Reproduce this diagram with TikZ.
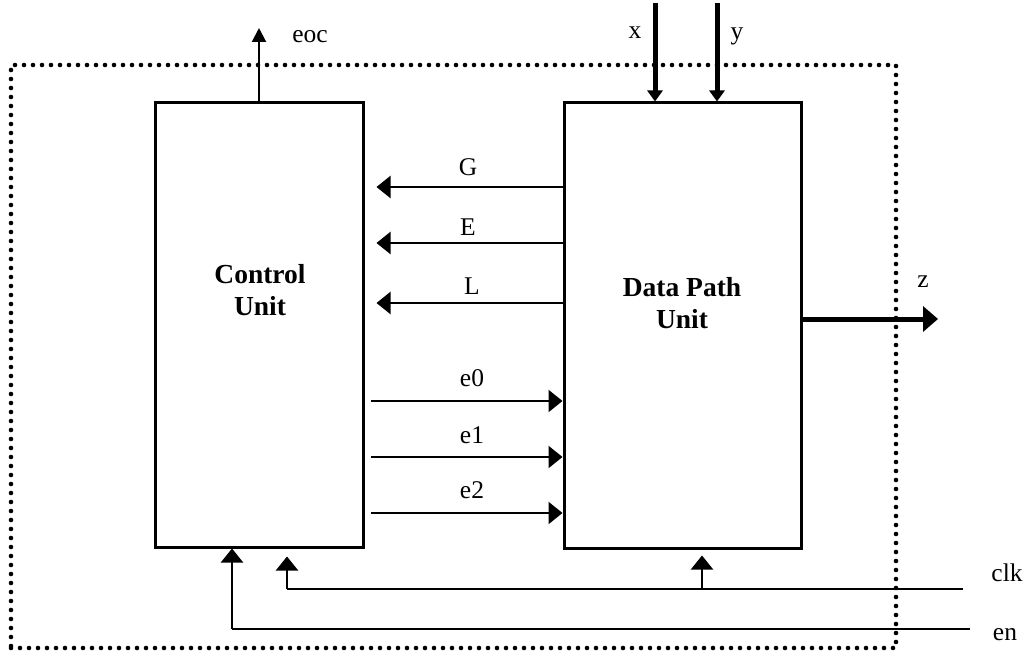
\documentclass[tikz,border=0pt]{standalone}
\usepackage{fontspec}
\setmainfont{Liberation Serif}
\usetikzlibrary{arrows.meta}
\begin{document}
\begin{tikzpicture}[x=1pt,y=-1pt,
  unitbox/.style={draw,line width=3pt,inner sep=0pt},
  unittext/.style={font=\fontsize{27.5}{32}\selectfont\bfseries,align=center},
  lbl/.style={font=\fontsize{25.5}{30}\selectfont,inner sep=0pt},
  sig/.style={line width=2.2pt,-{Triangle[length=14pt,width=22pt]}},
  small/.style={line width=2pt,-{Triangle[length=14pt,width=14pt]}},
  bus/.style={line width=5pt,-{Triangle[length=11pt,width=15pt]}},
  zbus/.style={line width=5pt,-{Triangle[length=15pt,width=25pt]}},
  wire/.style={line width=2.6pt},
  dotbox/.style={draw,line width=4.6pt,line cap=round,dash pattern=on 0pt off 9pt,inner sep=0pt}]
\useasboundingbox (0,0) rectangle (1028,655);
% system boundary
\node[dotbox,minimum width=885,minimum height=583] (sys) at (453.5,356.5) {};
% units
\node[unitbox,minimum width=208,minimum height=444] (cu) at (259,325) {};
\node[unitbox,minimum width=237,minimum height=445] (dp) at (682.5,325.5) {};
\node[unittext] (cutxt) at (260,290) {Control\\Unit};
\node[unittext] (dptxt) at (682,303) {Data Path\\Unit};
% eoc
\coordinate (eocend) at (259,28);
\draw[small] (cu.north -| eocend) -- (eocend);
\node[lbl] (eoc) at (310,37) {eoc};
% x, y
\coordinate (xin) at (655,3);
\coordinate (yin) at (717,3);
\draw[bus] (xin) -- (dp.north -| xin);
\draw[bus] (yin) -- (dp.north -| yin);
\node[lbl] (xl) at (635,33) {x};
\node[lbl] (yl) at (737,36) {y};
% G E L
\draw[sig] (dp.west |- 0,187) -- ([xshift=12pt]cu.east |- 0,187);
\draw[sig] (dp.west |- 0,243) -- ([xshift=12pt]cu.east |- 0,243);
\draw[sig] (dp.west |- 0,303) -- ([xshift=12pt]cu.east |- 0,303);
\node[lbl] (G) at (468,167) {G};
\node[lbl] (E) at (468,227) {E};
\node[lbl] (L) at (472,286) {L};
% e0 e1 e2
\draw[sig] ([xshift=6pt]cu.east |- 0,401) -- (dp.west |- 0,401);
\draw[sig] ([xshift=6pt]cu.east |- 0,457) -- (dp.west |- 0,457);
\draw[sig] ([xshift=6pt]cu.east |- 0,513) -- (dp.west |- 0,513);
\node[lbl] (e0) at (472,378) {e0};
\node[lbl] (e1) at (472,435) {e1};
\node[lbl] (e2) at (472,490) {e2};
% z
\coordinate (zout) at (938,319);
\draw[zbus] (dp.east |- zout) -- (zout);
\node[lbl] (z) at (923,282) {z};
% clk
\coordinate (clkin) at (963,589);
\coordinate (clkcu) at (287,589);
\coordinate (clkdp) at (702,589);
\draw[wire] (clkin) -- (clkcu);
\draw[sig] (clkcu) -- ([yshift=-8pt]cu.south -| clkcu);
\draw[sig] (clkdp) -- ([yshift=-6pt]dp.south -| clkdp);
\node[lbl] (clk) at (1007,573) {clk};
% en
\coordinate (enin) at (970,629);
\coordinate (encu) at (232,629);
\draw[wire] (enin) -- (encu);
\draw[sig] (encu) -- (cu.south -| encu);
\node[lbl] (en) at (1005,635) {en};
\end{tikzpicture}
\end{document}
